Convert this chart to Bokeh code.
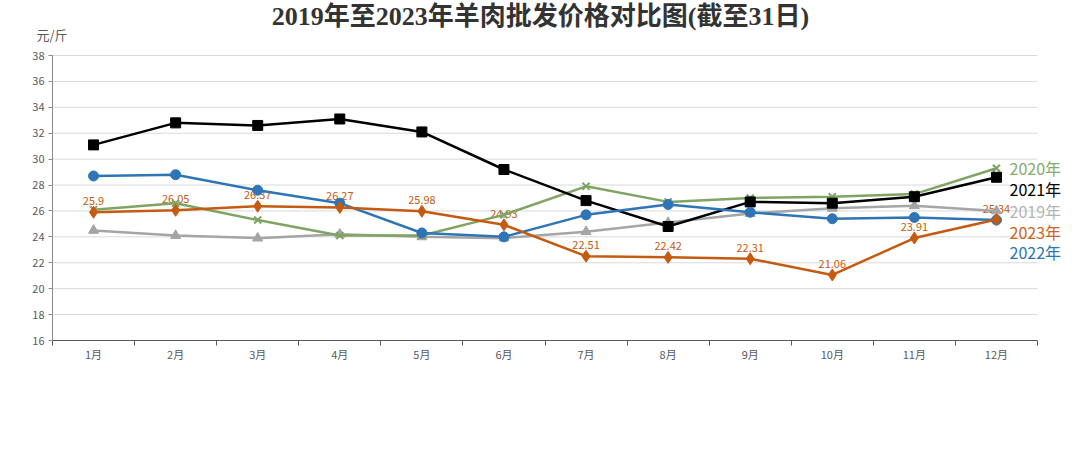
from bokeh.plotting import figure
from bokeh.models import FixedTicker, Label, Range1d, ColumnDataSource
from bokeh.core.properties import value
from bokeh.embed import file_html
from bokeh.resources import INLINE

months = ["1月", "2月", "3月", "4月", "5月", "6月", "7月", "8月", "9月", "10月", "11月", "12月"]
y2019 = [24.5, 24.1, 23.9, 24.2, 24.0, 23.9, 24.4, 25.1, 25.8, 26.2, 26.4, 26.0]
y2020 = [26.1, 26.6, 25.3, 24.1, 24.1, 25.7, 27.9, 26.7, 27.0, 27.1, 27.3, 29.3]
y2021 = [31.1, 32.8, 32.6, 33.1, 32.1, 29.2, 26.8, 24.8, 26.7, 26.6, 27.1, 28.6]
y2022 = [28.7, 28.8, 27.6, 26.6, 24.3, 24.0, 25.7, 26.5, 25.9, 25.4, 25.5, 25.3]
y2023 = [25.9, 26.05, 26.37, 26.27, 25.98, 24.93, 22.51, 22.42, 22.31, 21.06, 23.91, 25.34]
series_names = ["2020年", "2021年", "2019年", "2023年", "2022年"]
y_ticks = list(range(16, 39, 2))

FONT = "Noto Sans CJK SC"
C2019 = "#A5A5A5"
C2020 = "#7FA463"
C2021 = "#000000"
C2022 = "#2E75B6"
C2023 = "#C55A11"

xs = [i + 1 for i in range(len(months))]
x_lo, x_hi = 0.5, len(months) + 0.5
y_lo, y_hi = y_ticks[0], y_ticks[-1]

# layout (pixels): plot area inside the full canvas
W, H = 1080, 449
AL, AR, AT, AB = 52, 1037, 55, 340
sx = (AR - AL) / (x_hi - x_lo)
sy = (AB - AT) / (y_hi - y_lo)
xr = Range1d(x_lo - AL / sx, x_hi + (W - AR) / sx)
yr = Range1d(y_lo - (H - AB) / sy, y_hi + AT / sy)

p = figure(width=W, height=H, output_backend="svg", toolbar_location=None,
           x_range=xr, y_range=yr,
           min_border_left=0, min_border_right=0, min_border_top=0, min_border_bottom=0,
           background_fill_color="white", border_fill_color="white")
p.outline_line_color = None
p.xgrid.grid_line_color = None
p.ygrid.grid_line_color = None

# horizontal grid lines restricted to the plot area
p.segment(x0=[x_lo] * len(y_ticks), x1=[x_hi] * len(y_ticks), y0=y_ticks, y1=y_ticks,
          line_color="#D9D9D9", line_width=1)

# axes
xa = p.xaxis[0]
xa.fixed_location = y_lo
xa.bounds = (x_lo, x_hi)
xa.ticker = FixedTicker(ticks=xs, minor_ticks=[x - 0.5 for x in xs] + [x_hi])
xa.major_label_overrides = {x: m for x, m in zip(xs, months)}
xa.major_tick_line_color = None
xa.major_tick_out = 0
xa.major_tick_in = 0
xa.minor_tick_line_color = "#595959"
xa.minor_tick_out = 5
xa.minor_tick_in = 0
xa.axis_line_color = "#595959"
xa.major_label_text_font = FONT
xa.major_label_text_font_size = "11px"
xa.major_label_text_color = "#595959"
xa.major_label_standoff = 0

ya = p.yaxis[0]
ya.fixed_location = x_lo
ya.bounds = (y_lo, y_hi)
ya.ticker = FixedTicker(ticks=y_ticks)
ya.axis_line_color = "#8c8c8c"
ya.major_tick_line_color = "#8c8c8c"
ya.major_tick_out = 4
ya.major_tick_in = 0
ya.minor_tick_line_color = None
ya.major_label_text_font = FONT
ya.major_label_text_font_size = "11px"
ya.major_label_text_color = "#595959"
ya.major_label_standoff = 4

# data labels of 2023 (drawn under the lines, as in the reference)
src = ColumnDataSource(dict(x=xs, y=y2023, t=[f"{v:g}" for v in y2023]))
p.text(x="x", y="y", text="t", source=src, text_color=C2023, text_font=value(FONT),
       text_font_size="11px", text_align="center", text_baseline="bottom", y_offset=-7)

lw = 2.5
p.line(xs, y2019, color=C2019, line_width=lw)
p.scatter(xs, y2019, marker="triangle", size=10, color=C2019)
p.line(xs, y2020, color=C2020, line_width=lw)
p.scatter(xs, y2020, marker="x", size=10, line_color=C2020, line_width=2)
p.line(xs, y2021, color=C2021, line_width=lw)
p.scatter(xs, y2021, marker="square", size=10, color=C2021)
p.line(xs, y2022, color=C2022, line_width=lw)
p.scatter(xs, y2022, marker="circle", size=10, color=C2022)
p.line(xs, y2023, color=C2023, line_width=lw)
p.scatter(xs, y2023, marker="diamond", size=12, color=C2023)

# series labels at right end
label_colors = ["#86AA6A", C2021, "#B4B4B4", "#CC6420", C2022]
label_tops = [167, 188, 210, 231, 251]
for name, col, yy in zip(series_names, label_colors, label_tops):
    p.add_layout(Label(x=1009, y=yy, x_units="canvas", y_units="canvas", text=name,
                       text_color=col, text_font=FONT, text_font_size="16px",
                       text_baseline="middle", text_align="left"))

# title
p.add_layout(Label(x=540, y=16, x_units="canvas", y_units="canvas",
                   text="2019年至2023年羊肉批发价格对比图(截至31日)",
                   text_font="Liberation Serif, Noto Sans CJK SC",
                   text_font_style="bold", text_font_size="26px", text_color="#333333",
                   text_align="center", text_baseline="middle"))
# unit label
p.add_layout(Label(x=36, y=34, x_units="canvas", y_units="canvas", text="元/斤",
                   text_font=FONT, text_font_size="13px", text_color="#595959",
                   text_align="left", text_baseline="middle"))

open("out.html", "w").write(file_html(p, INLINE))
